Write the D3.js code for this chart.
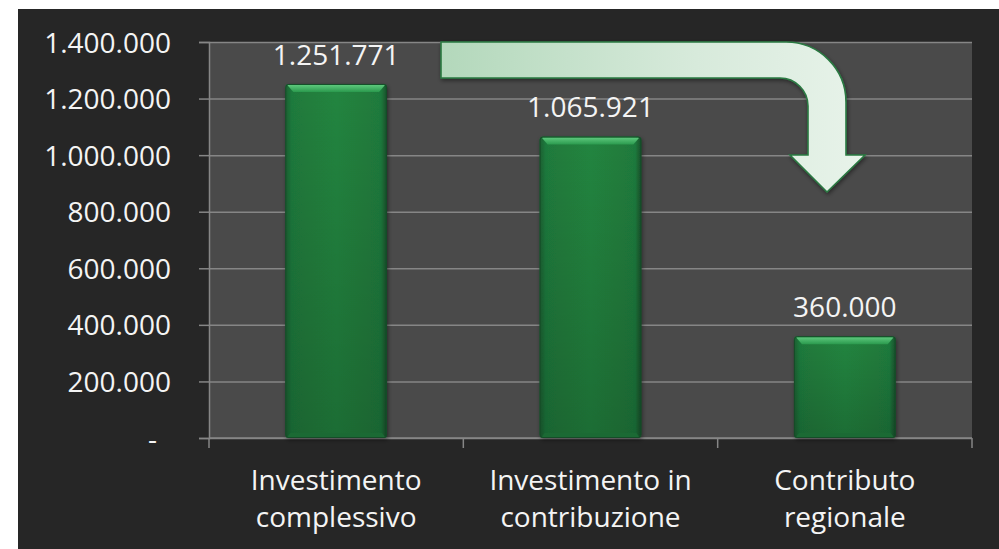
<!DOCTYPE html>
<html>
<head>
<meta charset="utf-8">
<script src="https://cdn.jsdelivr.net/npm/d3@7"></script>
<style>
  html, body { margin: 0; padding: 0; background: #ffffff; }
  svg { display: block; }
  text { font-family: "Open Sans", "Noto Sans", sans-serif; fill: #f4f4f4; }
</style>
</head>
<body>
<svg id="chart" width="999" height="549"></svg>
<script>
// Chart data
const categories = [["Investimento", "complessivo"], ["Investimento in", "contribuzione"], ["Contributo", "regionale"]];
const values = [1251771, 1065921, 360000];
const yTicks = [0, 200000, 400000, 600000, 800000, 1000000, 1200000, 1400000];

const W = 999, H = 549;
const frame = { left: 18, top: 9 };
const plot = { left: 209, top: 42, right: 972, bottom: 438 };
const FONT = 28;

const it = d3.formatLocale({ decimal: ",", thousands: ".", grouping: [3], currency: ["€", ""] });
const fmt = it.format(",.0f");

const svg = d3.select("#chart");
const defs = svg.append("defs");

// Bar body: darker sides, brighter middle
const gBody = defs.append("linearGradient").attr("id", "barBody").attr("x1", 0).attr("x2", 1).attr("y1", 0).attr("y2", 0);
[[0, "#1a5f31"], [0.06, "#1f7a3d"], [0.5, "#23853f"], [0.94, "#1f7a3d"], [1, "#174f2a"]]
  .forEach(([o, c]) => gBody.append("stop").attr("offset", o).attr("stop-color", c));
const gShade = defs.append("linearGradient").attr("id", "barShade").attr("x1", 0).attr("x2", 0).attr("y1", 0).attr("y2", 1);
[[0, "#000", 0], [1, "#000", 0.18]].forEach(([o, c, a]) => gShade.append("stop").attr("offset", o).attr("stop-color", c).attr("stop-opacity", a));
const gTop = defs.append("linearGradient").attr("id", "barTop").attr("x1", 0).attr("x2", 0).attr("y1", 0).attr("y2", 1);
[[0, "#5ec97d"], [1, "#2b9a4e"]].forEach(([o, c]) => gTop.append("stop").attr("offset", o).attr("stop-color", c));

const gArrow = defs.append("linearGradient").attr("id", "arrowFill").attr("gradientUnits", "userSpaceOnUse")
  .attr("x1", 441).attr("x2", 866).attr("y1", 0).attr("y2", 0);
[[0, "#b3d8bb"], [0.6, "#d7eadb"], [1, "#e8f3ea"]].forEach(([o, c]) => gArrow.append("stop").attr("offset", o).attr("stop-color", c));

const shadow = defs.append("filter").attr("id", "soft").attr("x", "-10%").attr("y", "-10%").attr("width", "130%").attr("height", "130%");
shadow.append("feDropShadow").attr("dx", 1).attr("dy", 2).attr("stdDeviation", 2).attr("flood-color", "#000").attr("flood-opacity", 0.45);

// Backgrounds
svg.append("rect").attr("x", frame.left).attr("y", frame.top).attr("width", W - frame.left).attr("height", H - frame.top).attr("fill", "#262626");
svg.append("rect").attr("x", plot.left).attr("y", plot.top).attr("width", plot.right - plot.left).attr("height", plot.bottom - plot.top).attr("fill", "#4a4a4a");

// Scales
const x = d3.scaleBand().domain(d3.range(categories.length)).range([plot.left, plot.right]).padding(0);
const xBar = d3.scaleBand().domain(d3.range(categories.length)).range([plot.left, plot.right]).paddingInner(0.6).paddingOuter(0.3);
const y = d3.scaleLinear().domain([0, 1400000]).range([plot.bottom, plot.top]);

// Gridlines
svg.append("g").attr("transform", `translate(${plot.left},0)`)
  .call(d3.axisLeft(y).tickValues(yTicks).tickSize(-(plot.right - plot.left)).tickFormat(""))
  .call(g => g.select(".domain").remove())
  .selectAll("line").attr("stroke", "#868686").attr("stroke-width", 1.5);

// Y axis with tick labels
const yAxis = svg.append("g").attr("transform", `translate(${plot.left},0)`)
  .call(d3.axisLeft(y).tickValues(yTicks).tickSize(10).tickPadding(28).tickFormat(d => d === 0 ? "-" : fmt(d)));
yAxis.select(".domain").attr("stroke", "#868686").attr("stroke-width", 1.5);
yAxis.selectAll(".tick line").attr("stroke", "#868686").attr("stroke-width", 1.5);
yAxis.selectAll(".tick text").attr("font-size", FONT).attr("fill", "#f4f4f4").attr("dy", "0.36em")
  .attr("dx", d => d === 0 ? -14 : 0);

// X axis: baseline and boundary ticks
const xAxis = svg.append("g").attr("transform", `translate(0,${plot.bottom})`);
xAxis.append("line").attr("x1", plot.left).attr("x2", plot.right).attr("stroke", "#868686").attr("stroke-width", 1.5);
const bounds = d3.range(categories.length + 1).map(i => i < categories.length ? x(i) : x(i - 1) + x.bandwidth());
xAxis.selectAll(".bt").data(bounds).join("line")
  .attr("x1", d => d).attr("x2", d => d).attr("y1", 0).attr("y2", 10)
  .attr("stroke", "#868686").attr("stroke-width", 1.5);

// Category labels
const catG = svg.append("g");
categories.forEach((lines, i) => {
  const t = catG.append("text").attr("text-anchor", "middle").attr("font-size", FONT)
    .attr("x", x(i) + x.bandwidth() / 2).attr("y", 490);
  lines.forEach((ln, j) => t.append("tspan").attr("x", x(i) + x.bandwidth() / 2).attr("dy", j === 0 ? 0 : 37).text(ln));
});

// Bars with bevelled top
const bars = svg.append("g");
values.forEach((v, i) => {
  const bx = xBar(i), bw = xBar.bandwidth(), by = y(v), bh = plot.bottom - y(v);
  const g = bars.append("g");
  g.append("rect").attr("x", bx).attr("y", by).attr("width", bw).attr("height", bh).attr("rx", 3)
    .attr("fill", "url(#barBody)").attr("filter", "url(#soft)");
  g.append("rect").attr("x", bx).attr("y", by).attr("width", bw).attr("height", bh).attr("rx", 3)
    .attr("fill", "url(#barShade)");
  const bev = 8;
  g.append("path").attr("d", `M${bx + 2},${by + 1} L${bx + bw - 2},${by + 1} L${bx + bw - bev},${by + bev} L${bx + bev},${by + bev} Z`)
    .attr("fill", "url(#barTop)");
  g.append("path").attr("d", `M${bx + 2},${by + bh - 1} L${bx + bw - 2},${by + bh - 1} L${bx + bw - 5},${by + bh - 5} L${bx + 5},${by + bh - 5} Z`)
    .attr("fill", "#1b6a34");
  g.append("rect").attr("x", bx + 0.5).attr("y", by + 0.5).attr("width", bw - 1).attr("height", bh - 1).attr("rx", 3)
    .attr("fill", "none").attr("stroke", "#154d28").attr("stroke-width", 1);
});

// Value labels
svg.append("g").selectAll("text").data(values).join("text")
  .attr("text-anchor", "middle").attr("font-size", FONT)
  .attr("x", (d, i) => xBar(i) + xBar.bandwidth() / 2)
  .attr("y", d => y(d) - 19)
  .text(d => fmt(d));

// Bent arrow annotation
const arrowPath = [
  "M441,42", "L786,42", "A60,60 0 0 1 846,102", "L846,155", "L865,155", "L827,192",
  "L790,155", "L808,155", "L808,106", "A28,28 0 0 0 780,78", "L441,78", "Z"
].join(" ");
svg.append("path").attr("d", arrowPath).attr("fill", "url(#arrowFill)")
  .attr("stroke", "#2a7a42").attr("stroke-width", 1.6).attr("stroke-linejoin", "miter")
  .attr("filter", "url(#soft)");
</script>
</body>
</html>
